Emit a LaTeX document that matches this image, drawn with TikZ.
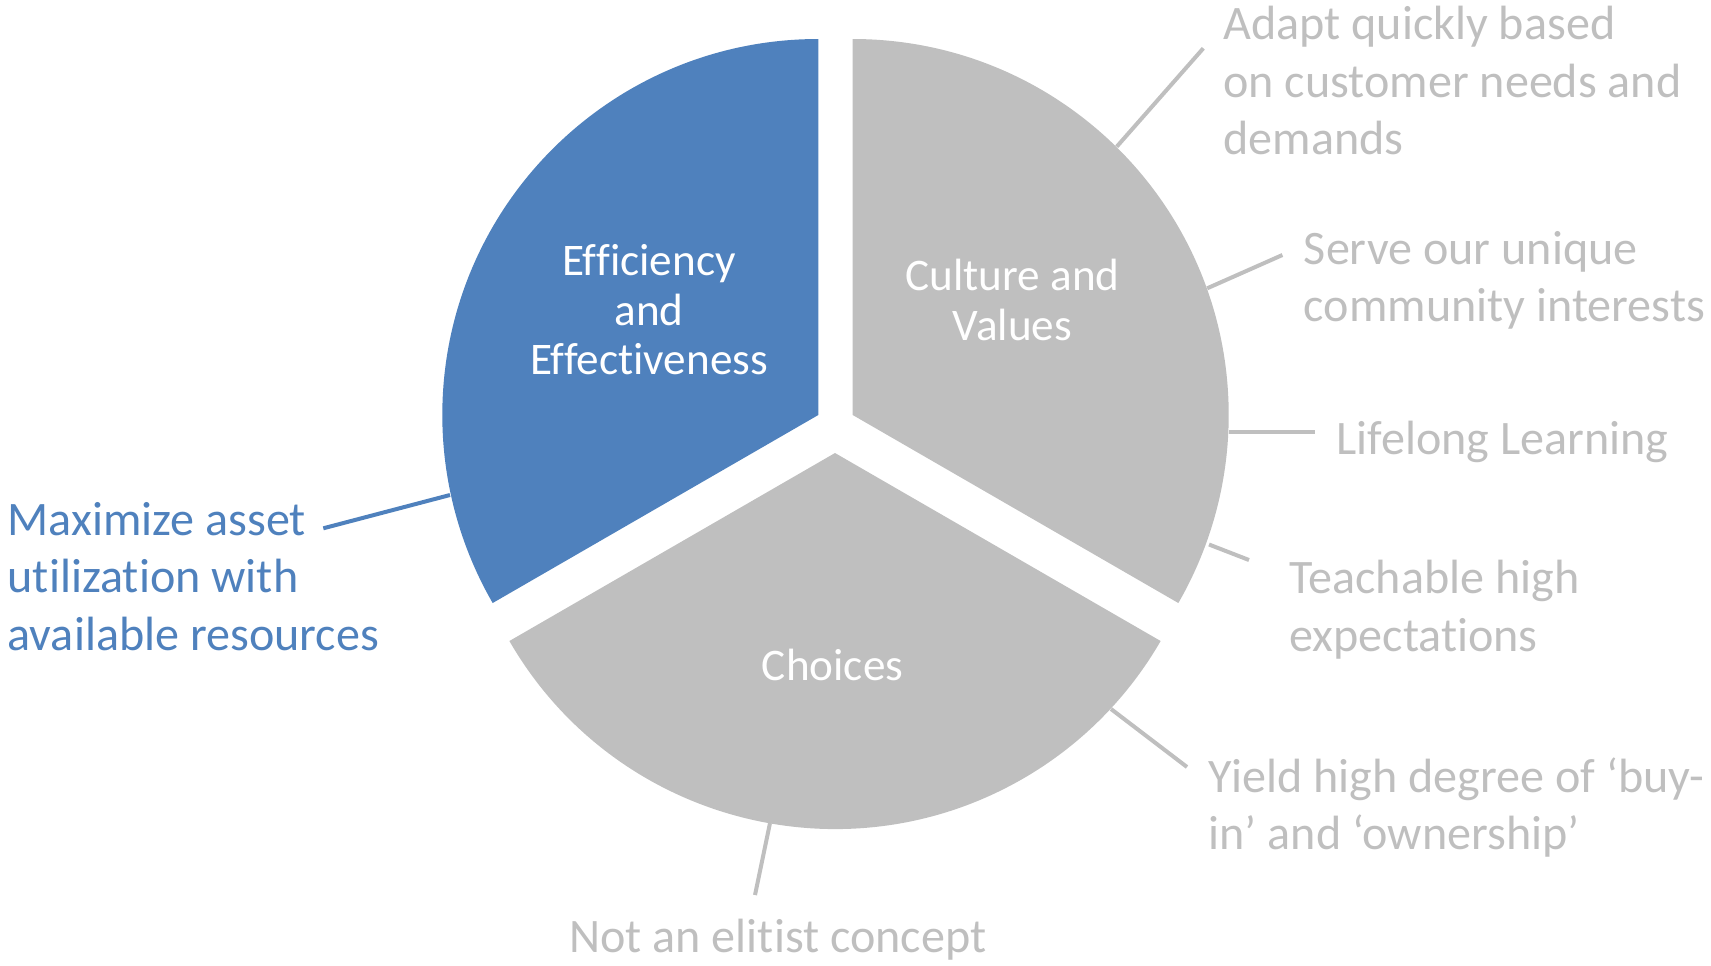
\documentclass[tikz,border=0pt]{standalone}
\usepackage{fontspec}
\setmainfont[Ligatures=NoCommon]{Carlito}
\definecolor{pblue}{HTML}{4F81BD}
\definecolor{pgray}{HTML}{BFBFBF}
\tikzset{
  outlbl/.style={anchor=base west, align=left, inner sep=0pt, font=\fontsize{24.05}{28.75}\selectfont},
  graylbl/.style={outlbl, text=pgray},
  bluelbl/.style={outlbl, text=pblue},
  inlbl/.style={anchor=base, align=center, inner sep=0pt, text=white, font=\fontsize{22.6}{24.75}\selectfont},
  grayline/.style={draw=pgray, line width=2pt},
  blueline/.style={draw=pblue, line width=2pt}
}
\begin{document}
\begin{tikzpicture}[x=0.5pt, y=-0.5pt]
\useasboundingbox (0,0) rectangle (1711,965);
% segment centres
\coordinate (cb) at (818.3,415);
\coordinate (cr) at (852.7,415);
\coordinate (cd) at (835,453);
% segments
\fill[pblue] (cb) -- ++(-90:376) arc[start angle=-90, end angle=-210, radius=376] -- cycle;
\fill[pgray] (cr) -- ++(-90:376) arc[start angle=-90, end angle=30, radius=376] -- cycle;
\fill[pgray] (cd) -- ++(-210:376) arc[start angle=-210, end angle=-330, radius=376] -- cycle;
% inner labels (anchored at the baseline of the last line)
\node[inlbl] (eff) at (649,374.5) {Efficiency\\and\\Effectiveness};
\node[inlbl] (cul) at (1012.5,340.3) {Culture and\\Values};
\node[inlbl] (cho) at (832.6,680) {Choices};
% outer labels (anchored at the baseline of the last line)
\node[bluelbl] (maxl) at (7.3,650) {Maximize asset\\utilization with\\available resources};
\node[graylbl] (adapt) at (1223,154.7) {Adapt quickly based\\on customer needs and\\demands};
\node[graylbl] (serve) at (1303.5,321.8) {Serve our unique\\community interests};
\node[graylbl] (life) at (1336,454.7) {Lifelong Learning};
\node[graylbl] (teach) at (1289,651) {Teachable high\\expectations};
\node[graylbl] (yield) at (1208.3,849.7) {Yield high degree of ‘buy-\\in’ and ‘ownership’};
\node[graylbl] (notan) at (569,952) {Not an elitist concept};
% connector ends
\coordinate (m1) at (450,495);   \coordinate (m2) at (323.3,528.3);
\coordinate (a1) at (1116.7,146.7); \coordinate (a2) at (1203.3,48.3);
\coordinate (s1) at (1207.2,288.3); \coordinate (s2) at (1282.4,255);
\coordinate (l1) at (1228.7,431.7); \coordinate (l2) at (1314.6,431.7);
\coordinate (t1) at (1209,544.5); \coordinate (t2) at (1249,560);
\coordinate (y1) at (1111,709); \coordinate (y2) at (1187,767);
\coordinate (n1) at (770,823); \coordinate (n2) at (755,895);
\draw[blueline] (m1) -- (m2);
\draw[grayline] (a1) -- (a2);
\draw[grayline] (s1) -- (s2);
\draw[grayline] (l1) -- (l2);
\draw[grayline] (t1) -- (t2);
\draw[grayline] (y1) -- (y2);
\draw[grayline] (n1) -- (n2);
\end{tikzpicture}
\end{document}
